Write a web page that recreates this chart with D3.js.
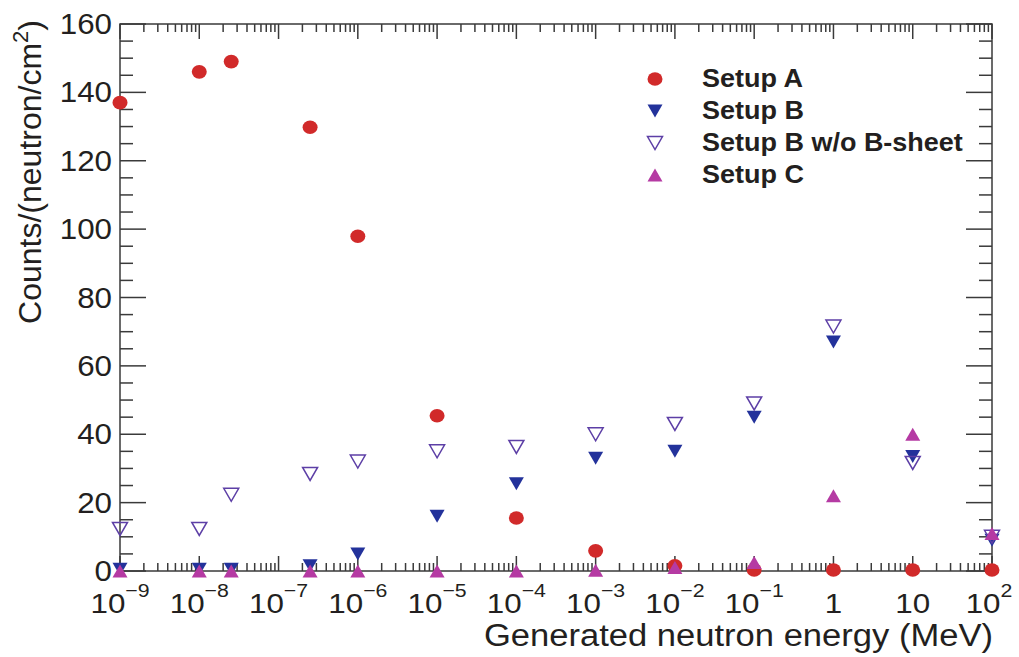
<!DOCTYPE html>
<html>
<head>
<meta charset="utf-8">
<script src="https://cdn.jsdelivr.net/npm/d3@7"></script>
<style>
  body { margin: 0; background: #fff; }
  text { font-family: "Liberation Sans", Arial, sans-serif; fill: #231f20; }
  .legend text { font-weight: bold; }
</style>
</head>
<body>
<svg width="1019" height="657"></svg>
<script>
// neutron energies (MeV)
var energies = [1e-9, 1e-8, 2.53e-8, 2.5e-7, 1e-6, 1e-5, 1e-4, 1e-3, 1e-2, 1e-1, 1, 10, 100];

// counts per neutron/cm2
var setupA      = [137, 146, 149, 129.8, 97.9, 45.4, 15.5, 5.9, 1.5, 0.3, 0.3, 0.3, 0.3];
var setupB      = [0.5, 0.5, 0.5, 1.5, 5, 16, 25.5, 33, 35, 45, 67, 33.5, 9];
var setupBnoB   = [12.3, 12.3, 22.3, 28.4, 32, 35, 36.3, 40, 43, 49, 71.5, 31.6, 10];
var setupC      = [0, 0, 0, 0, 0, 0, 0, 0.2, 1, 2.5, 22, 40, 11];

var seriesNames = ['Setup A', 'Setup B', 'Setup B w/o B-sheet', 'Setup C'];
var yTicks = [0, 20, 40, 60, 80, 100, 120, 140, 160];
var xExponents = [-9, -8, -7, -6, -5, -4, -3, -2, -1, 0, 1, 2];

var svg = d3.select('svg');

var x = d3.scaleLog()
          .domain([1e-9, 1e2])
          .range([120, 992]);
var y = d3.scaleLinear()
          .domain([0, 160])
          .range([571, 24]);

var axisColor = '#3a3a3a';

// frame
svg.append('rect')
  .attr('x', 120).attr('y', 24)
  .attr('width', 872).attr('height', 547)
  .style('fill', 'none')
  .style('stroke', axisColor)
  .style('stroke-width', 1.5);

// y ticks (left + right)
var yMinor = d3.range(0, 161, 5);
svg.selectAll('line.ytick')
  .data(yMinor)
  .enter()
  .append('g')
  .each(function(d) {
    var len = d % 20 === 0 ? 26 : 13;
    var g = d3.select(this);
    g.append('line')
      .attr('x1', 120).attr('x2', 120 + len)
      .attr('y1', y(d)).attr('y2', y(d));
    g.append('line')
      .attr('x1', 992).attr('x2', 992 - len)
      .attr('y1', y(d)).attr('y2', y(d));
  })
  .selectAll('line')
  .style('stroke', axisColor)
  .style('stroke-width', 1.5);

// x ticks (bottom + top), decades and 2..9
var xMinor = [];
xExponents.forEach(e => {
  xMinor.push({v: Math.pow(10, e), major: true});
  if (e < 2) d3.range(2, 10).forEach(k => xMinor.push({v: k * Math.pow(10, e), major: false}));
});
svg.selectAll('g.xtick')
  .data(xMinor)
  .enter()
  .append('g')
  .each(function(d) {
    var len = d.major ? 15 : 8;
    var g = d3.select(this);
    g.append('line')
      .attr('x1', x(d.v)).attr('x2', x(d.v))
      .attr('y1', 571).attr('y2', 571 - len);
    g.append('line')
      .attr('x1', x(d.v)).attr('x2', x(d.v))
      .attr('y1', 24).attr('y2', 24 + len);
  })
  .selectAll('line')
  .style('stroke', axisColor)
  .style('stroke-width', 1.5);

// y tick labels
svg.selectAll('text.ylabel')
  .data(yTicks)
  .enter()
  .append('text')
    .attr('class', 'ylabel')
    .attr('transform', d => 'translate(112,' + (y(d) + 10) + ') scale(1.08,1)')
    .attr('text-anchor', 'end')
    .style('font-size', '29px')
    .text(d => d);

// x tick labels
var xl = svg.selectAll('text.xlabel')
  .data(xExponents)
  .enter()
  .append('text')
    .attr('class', 'xlabel')
    .attr('transform', d => 'translate(' + (x(Math.pow(10, d)) - (d === 2 ? 3 : 0)) + ',613) scale(1.12,1)')
    .attr('text-anchor', 'middle')
    .style('font-size', '28px');
xl.each(function(e) {
  var t = d3.select(this);
  if (e === 0) { t.text('1'); return; }
  if (e === 1) { t.text('10'); return; }
  t.append('tspan').text('10');
  t.append('tspan')
    .attr('dy', -16)
    .style('font-size', '19px')
    .text(e < 0 ? '\u2212' + (-e) : e);
});

// axis titles
svg.append('text')
  .attr('transform', 'translate(993,646) scale(1.115,1)')
  .attr('text-anchor', 'end')
  .style('font-size', '31px')
  .text('Generated neutron energy (MeV)');

var yt = svg.append('text')
  .attr('transform', 'translate(41,20) rotate(-90)')
  .attr('text-anchor', 'end')
  .style('font-size', '32px');
yt.append('tspan').text('Counts/(neutron/cm');
yt.append('tspan').attr('dy', -13).style('font-size', '22px').text('2');
yt.append('tspan').attr('dy', 13).text(')');

// markers
var colors = {A: '#d12a2a', B: '#23329b', Bn: '#5d3fa6', C: '#b53aa3'};
var triDown = 'M-7.5,-6.5L7.5,-6.5L0,6.5Z';
var triUp = 'M-7.5,6.5L7.5,6.5L0,-6.5Z';

function drawSeries(values, cls, kind) {
  var sel = svg.selectAll('.' + cls)
    .data(energies.map((e, i) => [e, values[i]]))
    .enter();
  if (kind === 'circle') {
    sel.append('ellipse')
      .attr('class', cls)
      .attr('cx', d => x(d[0]))
      .attr('cy', d => y(d[1]))
      .attr('rx', 7.5).attr('ry', 6.8)
      .style('fill', colors.A);
  } else {
    sel.append('path')
      .attr('class', cls)
      .attr('d', kind === 'up' ? triUp : triDown)
      .attr('transform', d => 'translate(' + x(d[0]) + ',' + y(d[1]) + ')')
      .style('fill', kind === 'open' ? 'none' : (kind === 'up' ? colors.C : colors.B))
      .style('stroke', kind === 'open' ? colors.Bn : 'none')
      .style('stroke-width', 1.5);
  }
}

drawSeries(setupA, 'sA', 'circle');
drawSeries(setupB, 'sB', 'down');
drawSeries(setupBnoB, 'sBn', 'open');
drawSeries(setupC, 'sC', 'up');

// legend
var legend = svg.append('g').attr('class', 'legend');
var legendKinds = ['circle', 'down', 'open', 'up'];
seriesNames.forEach((name, i) => {
  var ly = 79 + i * 32;
  var k = legendKinds[i];
  if (k === 'circle') {
    legend.append('ellipse')
      .attr('cx', 655).attr('cy', ly)
      .attr('rx', 7.5).attr('ry', 6.8)
      .style('fill', colors.A);
  } else {
    legend.append('path')
      .attr('d', k === 'up' ? triUp : triDown)
      .attr('transform', 'translate(655,' + ly + ')')
      .style('fill', k === 'open' ? 'none' : (k === 'up' ? colors.C : colors.B))
      .style('stroke', k === 'open' ? colors.Bn : 'none')
      .style('stroke-width', 1.5);
  }
  legend.append('text')
    .attr('transform', 'translate(702,' + (ly + 8) + ') scale(1.08,1)')
    .style('font-size', '25px')
    .text(name);
});
</script>
</body>
</html>
